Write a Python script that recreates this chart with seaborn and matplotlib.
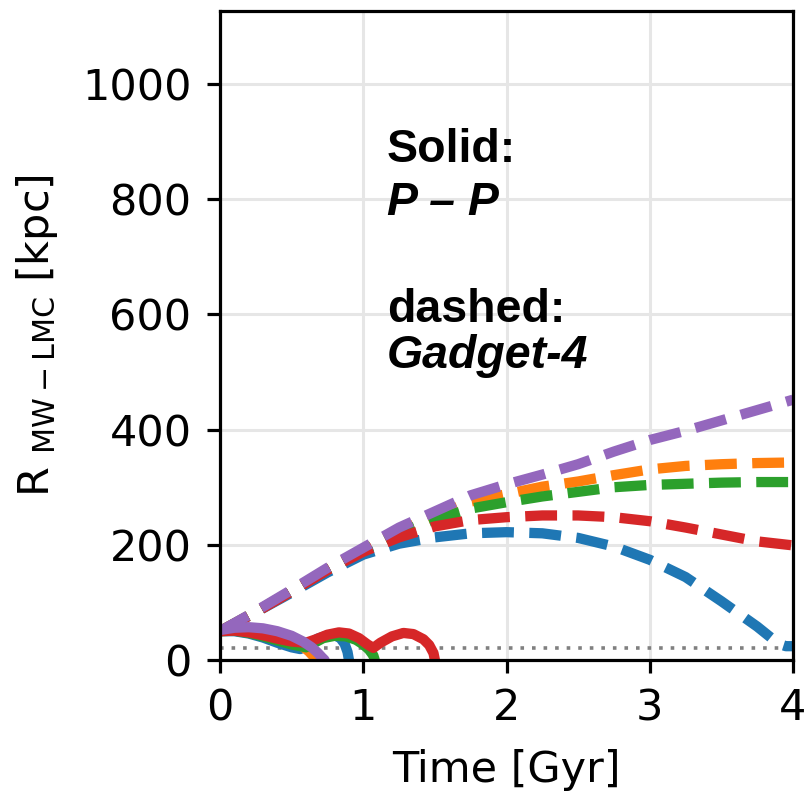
import matplotlib
matplotlib.use("Agg")
import matplotlib.pyplot as plt
import seaborn as sns
import pandas as pd

# Gadget-4 runs (dashed)
gadget_t = [0, 0.25, 0.5, 0.75, 1.0, 1.25, 1.5, 1.75, 2.0, 2.25, 2.5, 2.75, 3.0, 3.25, 3.5, 3.75, 4.0]
gadget_purple = [50, 85, 122, 160, 195, 230, 258, 286, 305, 322, 340, 362, 382, 398, 416, 434, 452]
gadget_orange = [50, 84, 120, 158, 192, 224, 250, 275, 288, 301, 310, 321, 331, 337, 340, 342, 343]
gadget_green = [50, 84, 120, 157, 190, 221, 244, 263, 274, 284, 292, 300, 304, 306, 308, 309, 309]
gadget_red = [50, 83, 119, 156, 188, 213, 232, 243, 248, 251, 251, 248, 241, 230, 218, 206, 199]
gadget_blue_t = [0, 0.25, 0.5, 0.75, 1.0, 1.25, 1.5, 1.75, 2.0, 2.25, 2.5, 2.75, 3.0, 3.25, 3.5, 3.75, 3.85, 3.9, 3.95, 4.0]
gadget_blue = [50, 83, 117, 152, 183, 202, 213, 220, 222, 220, 212, 197, 174, 144, 102, 58, 38, 28, 24, 24]

# P-P runs (solid)
pp_blue_t = [0, 0.1, 0.2, 0.3, 0.4, 0.5, 0.56, 0.62, 0.68, 0.74, 0.8, 0.84, 0.87, 0.89, 0.9]
pp_blue = [50, 50, 46, 39, 30, 22, 19, 28, 37, 42, 43, 38, 28, 14, 0]
pp_orange_t = [0, 0.1, 0.2, 0.3, 0.4, 0.5, 0.57, 0.62, 0.65, 0.67]
pp_orange = [50, 53, 53, 50, 44, 35, 25, 15, 7, 0]
pp_green_t = [0, 0.1, 0.2, 0.3, 0.4, 0.5, 0.6, 0.66, 0.72, 0.8, 0.88, 0.95, 1.0, 1.04, 1.07, 1.08]
pp_green = [50, 51, 47, 41, 34, 27, 22, 30, 38, 42, 41, 35, 27, 18, 8, 0]
pp_red_t = [0, 0.1, 0.2, 0.3, 0.4, 0.5, 0.6, 0.67, 0.75, 0.83, 0.9, 0.97, 1.03, 1.07, 1.12, 1.2, 1.28, 1.35, 1.42, 1.46, 1.49, 1.5]
pp_red = [50, 51, 48, 43, 37, 32, 30, 36, 44, 48, 46, 38, 27, 21, 30, 41, 47, 45, 36, 26, 12, 0]
pp_purple_t = [0, 0.1, 0.2, 0.3, 0.4, 0.5, 0.58, 0.64, 0.68, 0.71, 0.73]
pp_purple = [52, 56, 57, 55, 50, 42, 32, 22, 13, 5, 0]

r_merge = 20
x_ticks = [0, 1, 2, 3, 4]
y_ticks = [0, 200, 400, 600, 800, 1000]

sns.set_theme(style="whitegrid", rc={
    "axes.edgecolor": "black",
    "axes.linewidth": 2.3,
    "grid.color": "#e6e6e6",
    "grid.linewidth": 2.2,
    "xtick.bottom": True,
    "ytick.left": True,
    "xtick.major.size": 9.5,
    "ytick.major.size": 9.5,
    "xtick.major.width": 2.3,
    "ytick.major.width": 2.3,
    "xtick.major.pad": 10,
    "ytick.major.pad": 11,
    "xtick.color": "black",
    "ytick.color": "black",
    "axes.labelcolor": "black",
    "text.color": "black",
    "font.size": 31,
    "axes.labelsize": 31,
    "xtick.labelsize": 31,
    "ytick.labelsize": 31,
})
plt.rcParams["font.family"] = ["DejaVu Sans"]
plt.rcParams["mathtext.fontset"] = "dejavusans"

pal = sns.color_palette("tab10")
blue, orange, green, red, purple = pal[0], pal[1], pal[2], pal[3], pal[4]

fig = plt.figure(figsize=(8.08, 7.95), dpi=100)
ax = fig.add_axes([0.2723, 0.1698, 0.7092, 0.8164])

ax.axhline(r_merge, color="gray", linestyle=(0, (1, 2.2)), linewidth=2.6, zorder=1.5)

lw = 7.4
dashed = [(gadget_blue_t, gadget_blue, blue), (gadget_t, gadget_orange, orange),
          (gadget_t, gadget_green, green), (gadget_t, gadget_red, red),
          (gadget_t, gadget_purple, purple)]
for t, r, c in dashed:
    sns.lineplot(x=t, y=r, ax=ax, color=c, linewidth=lw, linestyle=(0, (3.1, 1.5)))

solid = [(pp_blue_t, pp_blue, blue), (pp_orange_t, pp_orange, orange),
         (pp_green_t, pp_green, green), (pp_red_t, pp_red, red),
         (pp_purple_t, pp_purple, purple)]
for t, r, c in solid:
    sns.lineplot(x=t, y=r, ax=ax, color=c, linewidth=lw, linestyle="-")

ax.set_xlim(0, 4)
ax.set_ylim(0, 1127)
ax.set_xticks(x_ticks)
ax.set_yticks(y_ticks)
ax.set_xlabel("Time [Gyr]", labelpad=14)
ax.set_ylabel("R $_{\\rm MW-LMC}$ [kpc]", labelpad=16)

tfont = ["Liberation Sans", "DejaVu Sans"]
ax.text(0.291, 0.767, "Solid:", transform=ax.transAxes, fontsize=33.5,
        fontweight="bold", family=tfont, va="baseline", color="black")
ax.text(0.291, 0.686, "P \u2013 P", transform=ax.transAxes, fontsize=33.5,
        fontweight="bold", style="italic", family=tfont, va="baseline", color="black")
ax.text(0.291, 0.521, "dashed:", transform=ax.transAxes, fontsize=33.5,
        fontweight="bold", family=tfont, va="baseline", color="black")
ax.text(0.291, 0.450, "Gadget-4", transform=ax.transAxes, fontsize=33.5,
        fontweight="bold", style="italic", family=tfont, va="baseline", color="black")

fig.savefig("out.png", dpi=100)
